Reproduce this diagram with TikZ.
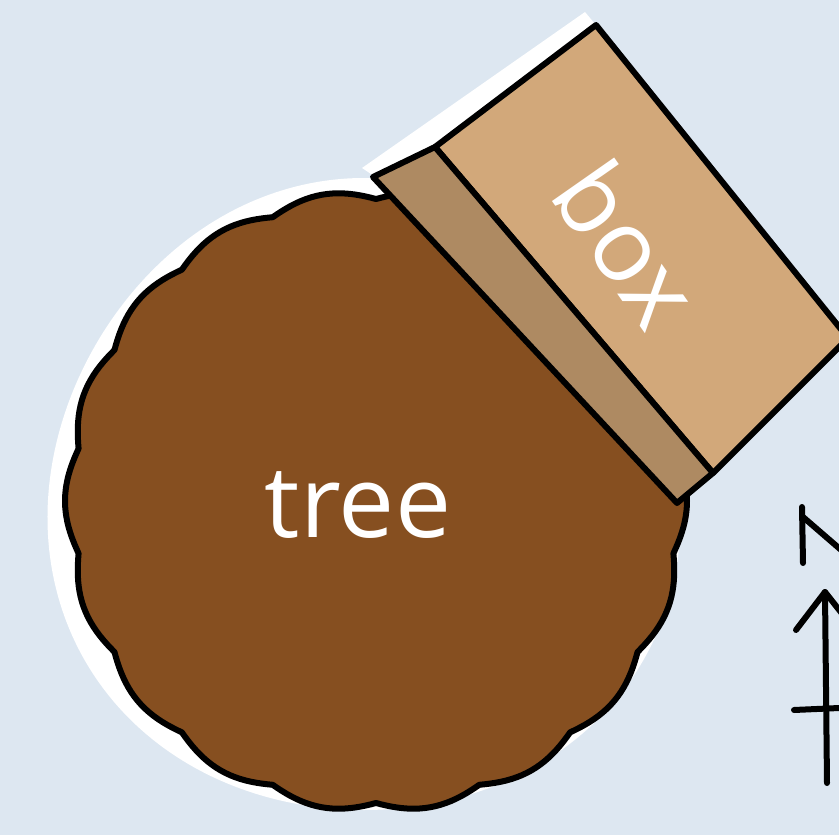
\documentclass[tikz,border=0pt]{standalone}
\usepackage{fontspec}
\setmainfont{Open Sans}
\definecolor{bgblue}{RGB}{221,231,241}
\definecolor{treebrown}{RGB}{134,79,32}
\definecolor{boxtan}{RGB}{210,168,122}
\definecolor{bandtan}{RGB}{174,138,98}
\tikzset{
  outline/.style={draw=black, line width=6pt, line join=round},
  halo/.style={fill=white},
  label/.style={text=white, font=\fontsize{100}{102}\selectfont, inner sep=0pt},
  penline/.style={draw=black, line width=6pt, line cap=round, line join=round}
}
\begin{document}
\begin{tikzpicture}[x=1pt,y=-1pt]
\useasboundingbox (0,0) rectangle (839,835);
\clip (0,0) rectangle (839,835);
\fill[bgblue] (0,0) rectangle (839,835);
% halos
\fill[halo] plot[domain=0:359, samples=360] ({364+(316+6*sin(3*\x))*cos(\x)},{500+(316+6*sin(3*\x))*sin(\x)}) -- cycle;
\fill[halo] (362,168) -- (585,12) -- (600,30) -- (435,150) -- (380,180) -- cycle;
% tree
\path[outline, fill=treebrown] plot[domain=0:359, samples=360]
  ({376+(302+9*abs(cos(9*\x)))*cos(\x)},{501+(302+9*abs(cos(9*\x)))*sin(\x)}) -- cycle;
% box
\path[outline, fill=boxtan] (435,147) -- (596,25) -- (848,338) -- (713,473) -- cycle;
\path[outline, fill=bandtan] (373,177) -- (435,147) -- (713,473) -- (677,503) -- cycle;
% labels
\node[label] (tree) at (358,505) {tree};
\node[label, rotate=-55] (box) at (628,243) {box};
% compass (partly outside the frame)
\coordinate (n1) at (802,507);
\coordinate (n2) at (803,563);
\coordinate (n3) at (803,517);
\coordinate (n4) at (862,568);
\draw[penline] (n1) -- (n2);
\draw[penline] (n3) -- (n4);
\coordinate (atip) at (825,592);
\coordinate (aend) at (827,783);
\coordinate (abl) at (796,630);
\coordinate (abr) at (855,630);
\coordinate (cl) at (794,710);
\coordinate (cr) at (862,707);
\draw[penline] (atip) -- (aend);
\draw[penline] (abl) -- (atip) -- (abr);
\draw[penline] (cl) -- (cr);
\end{tikzpicture}
\end{document}
